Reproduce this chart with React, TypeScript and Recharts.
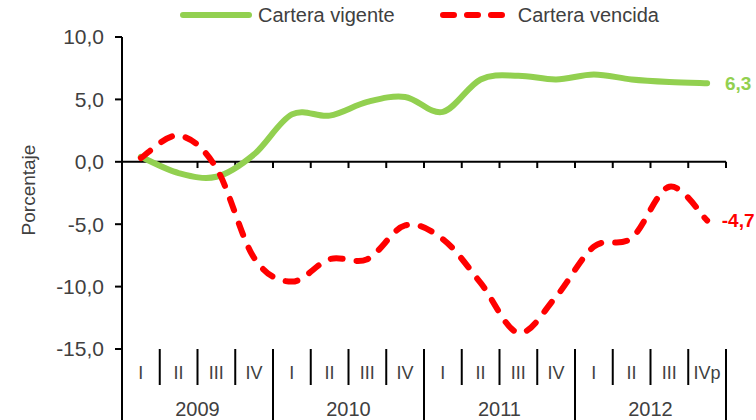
import React from 'react';
import {
  ComposedChart,
  Line,
  XAxis,
  YAxis,
  ReferenceLine,
  Legend,
  LabelList,
} from 'recharts';

const quarters = ['I', 'II', 'III', 'IV', 'I', 'II', 'III', 'IV', 'I', 'II', 'III', 'IV', 'I', 'II', 'III', 'IVp'];
const years = ['2009', '2010', '2011', '2012'];
const seriesNames = ['Cartera vigente', 'Cartera vencida'];
const vigente = [0.4, -0.9, -1.2, 0.6, 3.8, 3.7, 4.8, 5.2, 4.0, 6.6, 6.9, 6.6, 7.0, 6.6, 6.4, 6.3];
const vencida = [0.3, 2.1, -0.5, -7.7, -9.6, -7.8, -7.8, -5.1, -6.2, -9.7, -13.7, -10.8, -6.8, -6.1, -2.0, -4.7];
const yTicks = [-15, -10, -5, 0, 5, 10];

const GREEN = '#92D050';
const RED = '#FF0000';
const TEXT = '#404040';

const data = quarters.map((q, i) => ({
  pos: i + 0.5,
  q,
  vigente: vigente[i],
  vencida: vencida[i],
}));

// boundaries (integers) draw separators, half steps carry the quarter names
const xTicks: number[] = [];
for (let k = 0; k <= quarters.length; k++) {
  xTicks.push(k);
  if (k < quarters.length) xTicks.push(k + 0.5);
}

const fmt = (v: number) => v.toFixed(1).replace('.', ',');

// Excel-like smoothed line (Catmull-Rom through the points)
function excelSmooth(context: any) {
  let pts: [number, number][] = [];
  return {
    areaStart() {},
    areaEnd() {},
    lineStart() {
      pts = [];
    },
    point(x: number, y: number) {
      pts.push([+x, +y]);
    },
    lineEnd() {
      if (!pts.length) return;
      context.moveTo(pts[0][0], pts[0][1]);
      for (let i = 0; i < pts.length - 1; i++) {
        const p0 = pts[Math.max(i - 1, 0)];
        const p1 = pts[i];
        const p2 = pts[i + 1];
        const p3 = pts[Math.min(i + 2, pts.length - 1)];
        context.bezierCurveTo(
          p1[0] + (p2[0] - p0[0]) / 6,
          p1[1] + (p2[1] - p0[1]) / 6,
          p2[0] - (p3[0] - p1[0]) / 6,
          p2[1] - (p3[1] - p1[1]) / 6,
          p2[0],
          p2[1]
        );
      }
    },
  };
}

function QuarterTick(props: any) {
  const { x, y, payload } = props;
  const v = payload.value as number;
  if (Number.isInteger(v)) {
    const isYear = v % 4 === 0;
    return (
      <g>
        <line x1={x} x2={x} y1={y} y2={y + (isYear ? 71 : 36)} stroke='#000' strokeWidth={2} />
        {v % 4 === 2 && (
          <text x={x} y={y + 67} textAnchor='middle' fill={TEXT} fontSize={20}>
            {years[(v - 2) / 4]}
          </text>
        )}
      </g>
    );
  }
  return (
    <text x={x} y={y + 30} textAnchor='middle' fill={TEXT} fontSize={18}>
      {quarters[Math.floor(v)]}
    </text>
  );
}

function AxisTitle(props: any) {
  const { viewBox } = props;
  const cx = viewBox.x + 28;
  const cy = viewBox.y + viewBox.height / 2 - 3;
  return (
    <text
      x={cx}
      y={cy}
      transform={`rotate(-90 ${cx} ${cy})`}
      textAnchor='middle'
      dominantBaseline='central'
      fill={TEXT}
      fontSize={19}
    >
      Porcentaje
    </text>
  );
}

function EndLabel(color: string) {
  return function Label(props: any) {
    const { x, y, index, value } = props;
    if (index !== quarters.length - 1) return null;
    return (
      <text
        x={x + 31}
        y={y}
        textAnchor='middle'
        dominantBaseline='central'
        fill={color}
        fontSize={19}
        fontWeight='bold'
      >
        {fmt(value)}
      </text>
    );
  };
}

function LegendContent(props: any) {
  const payload = [...(props.payload || [])].sort(
    (a: any, b: any) => seriesNames.indexOf(a.value) - seriesNames.indexOf(b.value)
  );
  return (
    <div style={{ display: 'flex', alignItems: 'center', height: 30, paddingLeft: 180 }}>
      {payload.map((entry: any, i: number) => {
        const dashed = !!entry.payload?.strokeDasharray;
        const w = dashed ? 65 : 72;
        return (
          <div
            key={entry.value}
            style={{ display: 'flex', alignItems: 'center', marginRight: i === 0 ? 45 : 0 }}
          >
            <svg width={w} height={10} style={{ display: 'block' }}>
              <line
                x1={3}
                x2={w - 3}
                y1={5}
                y2={5}
                stroke={entry.color}
                strokeWidth={6}
                strokeLinecap='round'
                strokeDasharray={dashed ? '11 13' : undefined}
              />
            </svg>
            <span style={{ marginLeft: dashed ? 13 : 6, color: TEXT, fontSize: 20 }}>
              {entry.value}
            </span>
          </div>
        );
      })}
    </div>
  );
}

export default function App() {
  return (
    <div
      style={{
        position: 'absolute',
        left: 0,
        top: 0,
        fontFamily: '"Liberation Sans", Arial, sans-serif',
      }}
    >
      <ComposedChart
        width={756}
        height={420}
        data={data}
        margin={{ top: 7, right: 30, bottom: 0, left: 0 }}
      >
        <Legend
          verticalAlign='top'
          content={<LegendContent />}
          wrapperStyle={{ top: 0, left: 0, width: 756, height: 30 }}
        />
        <XAxis
          dataKey='pos'
          type='number'
          domain={[0, quarters.length]}
          ticks={xTicks}
          interval={0}
          axisLine={false}
          tickLine={false}
          tickSize={0}
          tickMargin={0}
          height={71}
          tick={<QuarterTick />}
        />
        <YAxis
          domain={[-15, 10]}
          ticks={yTicks}
          interval={0}
          width={122}
          tickFormatter={fmt}
          axisLine={{ stroke: '#000', strokeWidth: 2 }}
          tickLine={{ stroke: '#000', strokeWidth: 2 }}
          tickSize={7}
          tickMargin={11}
          tick={{ fill: TEXT, fontSize: 21 }}
          label={<AxisTitle />}
        />
        <ReferenceLine y={0} stroke='#000' strokeWidth={2} />
        {xTicks
          .filter((k) => Number.isInteger(k))
          .map((k) => (
            <ReferenceLine
              key={k}
              segment={[
                { x: k, y: 0 },
                { x: k, y: -0.5 },
              ]}
              stroke='#000'
              strokeWidth={2}
            />
          ))}
        <Line
          name={seriesNames[0]}
          dataKey='vigente'
          type={excelSmooth as any}
          stroke={GREEN}
          strokeWidth={6}
          strokeLinecap='round'
          dot={false}
          activeDot={false}
          isAnimationActive={false}
        >
          <LabelList dataKey='vigente' content={EndLabel(GREEN)} />
        </Line>
        <Line
          name={seriesNames[1]}
          dataKey='vencida'
          type={excelSmooth as any}
          stroke={RED}
          strokeWidth={6}
          strokeLinecap='round'
          strokeDasharray='12 14'
          dot={false}
          activeDot={false}
          isAnimationActive={false}
        >
          <LabelList dataKey='vencida' content={EndLabel(RED)} />
        </Line>
      </ComposedChart>
    </div>
  );
}
